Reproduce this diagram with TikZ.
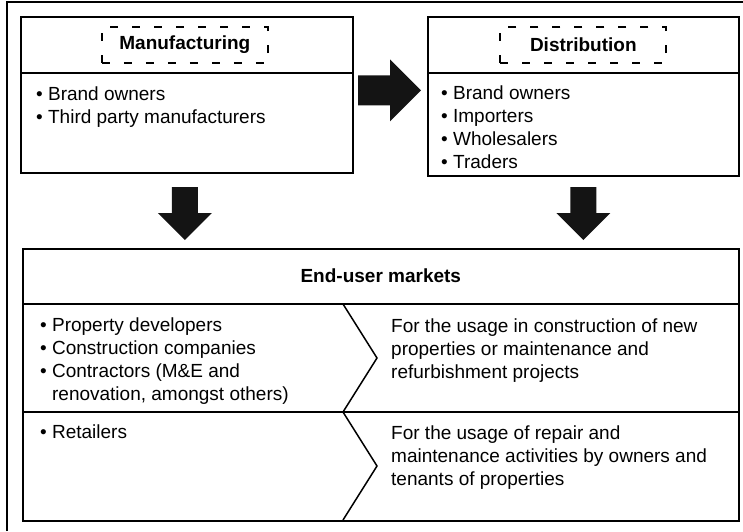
\documentclass[tikz,border=0pt]{standalone}
\usepackage{fontspec}
\setmainfont{Liberation Sans}
\usetikzlibrary{calc,positioning}
\newcommand\chainfont{\fontsize{19}{23}\selectfont}
\newcommand\bul{\textbullet\ }
\tikzset{
  every picture/.append style={line join=miter},
  chain frame/.style={line width=2.2pt},
  chain box/.style={draw,line width=1.6pt,anchor=north west,inner sep=0pt},
  chain rule/.style={line width=1.5pt},
  chain tag/.style={draw,line width=1.8pt,dash pattern=on 8pt off 14pt,
    minimum width=166pt,minimum height=36pt,font=\chainfont\bfseries},
  chain title/.style={font=\chainfont\bfseries},
  chain list/.style={anchor=north west,inner sep=0pt,align=left},
  chain arrow/.style={fill=black!92}
}

\begin{document}
\begin{tikzpicture}[x=1pt,y=-1pt,font=\chainfont]
\useasboundingbox (0,0) rectangle (743,531);
% cropped outer frame
\draw[chain frame] (7,531) -- (7,2) -- (743,2);

\node[chain box,minimum width=332pt,minimum height=156pt] (manu) at (20,16) {};
\node[chain box,minimum width=311pt,minimum height=159pt] (dist) at (427,16) {};
\node[chain box,minimum width=716pt,minimum height=272pt] (endu) at (22,248) {};

\draw[chain rule] ([yshift=-57pt]manu.north west) -- ([yshift=-57pt]manu.north east);
\draw[chain rule] ([yshift=-57pt]dist.north west) -- ([yshift=-57pt]dist.north east);
\draw[chain rule] ([yshift=-56pt]endu.north west) -- ([yshift=-56pt]endu.north east);
\draw[chain rule] ([yshift=-164pt]endu.north west) -- ([yshift=-164pt]endu.north east);
\draw[chain rule] ($(endu.north west)+(321,56)$) -- ++(34,54) -- ++(-34,54)
  -- ++(34,54) -- ++(-34,54);

\node[chain tag] (manutag) at ($(manu.north)+(-2,29)$) {Manufacturing};
\node[chain tag] (disttag) at ($(dist.north)+(0,29)$) {Distribution};
\node[chain title] (endutitle) at ($(endu.north)+(0,28)$) {End-user markets};

\node[chain list] (manulist) at ($(manu.north west)+(16,71)$)
  {\bul Brand owners\\ \bul Third party manufacturers};
\node[chain list] (distlist) at ($(dist.north west)+(14,70)$)
  {\bul Brand owners\\ \bul Importers\\ \bul Wholesalers\\ \bul Traders};
\node[chain list] (builders) at ($(endu.north west)+(18,70)$)
  {\bul Property developers\\ \bul Construction companies\\
   \bul Contractors (M\&E and\\ \hphantom{\bul}renovation, amongst others)};
\node[chain list] (newuse) at ($(endu.north west)+(369,71)$)
  {For the usage in construction of new\\ properties or maintenance and\\
   refurbishment projects};
\node[chain list] (retail) at ($(endu.north west)+(18,177)$) {\bul Retailers};
\node[chain list] (repair) at ($(endu.north west)+(369,178)$)
  {For the usage of repair and\\ maintenance activities by owners and\\
   tenants of properties};

% block arrows
\coordinate (rtip) at ($(dist.west)+(-6,-6)$);
\coordinate (ltip) at ($(manu.south |- endu.north)+(-2,-8)$);
\coordinate (dtip) at ($(dist.south |- endu.north)+(0,-8)$);
\fill[chain arrow] (rtip) -- ++(-31,-31) -- ++(0,16) -- ++(-32,0) -- ++(0,30)
  -- ++(32,0) -- ++(0,16) -- cycle;
\foreach \t in {ltip,dtip}
  \fill[chain arrow] (\t) -- ++(-27,-27) -- ++(14,0) -- ++(0,-26) -- ++(26,0)
    -- ++(0,26) -- ++(14,0) -- cycle;
\end{tikzpicture}
\end{document}
